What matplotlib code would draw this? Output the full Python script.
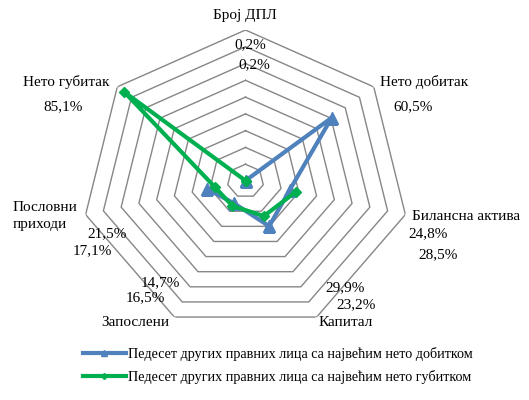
import matplotlib.pyplot as plt
import numpy as np

plt.rcParams['font.family'] = ['Liberation Serif', 'DejaVu Serif']

# категорије (осе)
categories = ['Број ДПЛ', 'Нето добитак', 'Билансна актива', 'Капитал',
              'Запослени', 'Пословни\nприходи', 'Нето губитак']
# вредности у % (nan = нема податка)
profit_vals = [0.2, 60.5, 24.8, 29.9, 14.7, 21.5, np.nan]
loss_vals = [0.2, np.nan, 28.5, 23.2, 16.5, 17.1, 85.1]
series_names = ['Педесет других правних лица са највећим нето добитком',
                'Педесет других правних лица са највећим нето губитком']
ring_levels = np.arange(10, 91, 10)

W, H = 529, 400
fig = plt.figure(figsize=(W / 100, H / 100), dpi=100)

# центар (245.5, 181) px, полупречници 164 x 151 px
cx, cy, rx, ry = 245.5, 181, 164, 151
ax = fig.add_axes([(cx - rx) / W, (H - cy - ry) / H, 2 * rx / W, 2 * ry / H],
                  projection='polar')
ax.set_aspect('auto')
ax.set_theta_offset(np.pi / 2)
ax.set_theta_direction(-1)

n = len(categories)
theta = np.linspace(0, 2 * np.pi, n, endpoint=False)
theta_c = np.append(theta, theta[0])

# мрежа - седмоуглови
for lv in ring_levels:
    ax.plot(theta_c, [lv] * (n + 1), color='#868686', lw=1.0, zorder=1)

ax.set_ylim(0, 90)
ax.set_xticks([])
ax.set_yticks([])
ax.grid(False)
ax.spines['polar'].set_visible(False)
ax.patch.set_alpha(0)

blue = '#4F81BD'
green = '#00B050'
ax.plot(theta_c, profit_vals + [profit_vals[0]], color=blue, lw=3,
        marker='^', ms=8, zorder=3, label=series_names[0])
ax.plot(theta_c, loss_vals + [loss_vals[0]], color=green, lw=3,
        marker='D', ms=5.5, zorder=4, label=series_names[1])

# називи категорија (позиције у px)
cat_pos = [(245, 16, 'center'), (424, 82, 'center'), (466, 216, 'center'),
           (346, 322, 'center'), (135, 322, 'center'), (13, 216, 'left'),
           (66, 82, 'center')]
for name, (px, py, ha) in zip(categories, cat_pos):
    fig.text(px / W, 1 - py / H, name, ha=ha, va='center', fontsize=11,
             linespacing=1.35)

# ознаке вредности
profit_pos = [(250, 45), (413, 107), (428, 234), (345, 288), (160, 283), (107, 234), None]
loss_pos = [(254, 65), None, (438, 255), (356, 305), (145, 298), (92, 251), (63, 107)]
for vals, poss in ((profit_vals, profit_pos), (loss_vals, loss_pos)):
    for v, p in zip(vals, poss):
        if p is None or np.isnan(v):
            continue
        fig.text(p[0] / W, 1 - p[1] / H, ('%.1f%%' % v).replace('.', ','),
                 ha='center', va='center', fontsize=11)

fig.legend(loc='upper left', bbox_to_anchor=(83 / W, 1 - 347 / H), frameon=False,
           fontsize=10.2, handlelength=3.0, handletextpad=0.2, labelspacing=0.62,
           borderaxespad=0, borderpad=0, markerscale=0.55)

plt.savefig('out.png', dpi=100)
